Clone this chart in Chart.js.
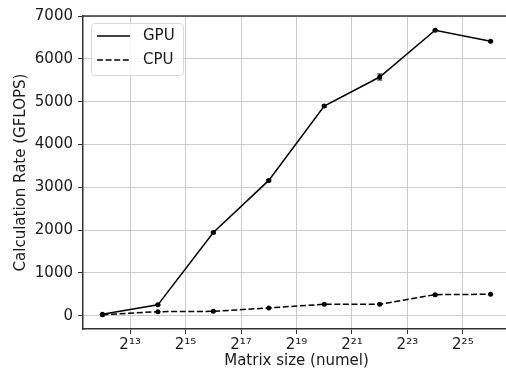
<!DOCTYPE html>
<html><head><meta charset="utf-8">
<script src="https://cdn.jsdelivr.net/npm/chart.js@4/dist/chart.umd.min.js"></script>
<style>html,body{margin:0;padding:0;overflow:hidden;background:#fff}#wrap{width:520px;height:372px}</style>
</head><body><div id="wrap"><canvas id="c" width="520" height="372"></canvas></div>
<script>
const exponents = [12, 14, 16, 18, 20, 22, 24, 26];
const gpuValues = [30, 252, 1944, 3160, 4897, 5575, 6668, 6411];
const gpuErrors = [5, 10, 15, 20, 20, 70, 10, 10];
const cpuValues = [20, 93, 100, 180, 266, 266, 490, 500];
const cpuErrors = [2, 3, 3, 5, 5, 5, 8, 8];
const xTickExps = [13, 15, 17, 19, 21, 23, 25];
const yTickValues = [0, 1000, 2000, 3000, 4000, 5000, 6000, 7000];
const seriesLabels = ['GPU', 'CPU'];

const SUP = {'0':'\u2070','1':'\u00b9','2':'\u00b2','3':'\u00b3','4':'\u2074','5':'\u2075','6':'\u2076','7':'\u2077','8':'\u2078','9':'\u2079'};
const FONT = "'DejaVu Sans', sans-serif";
const TXT = '#1a1a1a';

const errorBars = {
  id: 'errorBars',
  afterDatasetsDraw(chart) {
    const ctx = chart.ctx, x = chart.scales.x, y = chart.scales.y;
    const errs = [gpuErrors, cpuErrors];
    ctx.save();
    ctx.strokeStyle = '#000'; ctx.lineWidth = 1.2;
    chart.data.datasets.forEach((ds, i) => {
      ds.data.forEach((p, j) => {
        const e = errs[i][j];
        const px = x.getPixelForValue(p.x);
        const y1 = y.getPixelForValue(p.y - e), y2 = y.getPixelForValue(p.y + e);
        ctx.beginPath();
        ctx.moveTo(px, y1); ctx.lineTo(px, y2);
        ctx.moveTo(px - 2.5, y1); ctx.lineTo(px + 2.5, y1);
        ctx.moveTo(px - 2.5, y2); ctx.lineTo(px + 2.5, y2);
        ctx.stroke();
      });
    });
    ctx.restore();
  }
};

const frameAndLegend = {
  id: 'frameAndLegend',
  afterDraw(chart) {
    const ctx = chart.ctx, a = chart.chartArea;
    ctx.save();
    ctx.strokeStyle = '#333'; ctx.lineWidth = 1.5;
    ctx.beginPath(); ctx.moveTo(a.left, a.top); ctx.lineTo(a.right, a.top); ctx.stroke();
    const lx = a.left + 8, ly = a.top + 7, lw = 92, lh = 52;
    ctx.fillStyle = 'rgba(255,255,255,0.8)';
    ctx.strokeStyle = '#d9d9d9'; ctx.lineWidth = 1;
    ctx.beginPath();
    if (ctx.roundRect) ctx.roundRect(lx + 0.5, ly + 0.5, lw, lh, 3); else ctx.rect(lx + 0.5, ly + 0.5, lw, lh);
    ctx.fill(); ctx.stroke();
    ctx.font = '15px ' + FONT;
    ctx.textBaseline = 'middle'; ctx.textAlign = 'left';
    chart.data.datasets.forEach((ds, i) => {
      const yy = ly + 13 + i * 24;
      ctx.strokeStyle = '#000'; ctx.lineWidth = 1.5;
      ctx.setLineDash(ds.borderDash || []);
      ctx.beginPath(); ctx.moveTo(lx + 6, yy); ctx.lineTo(lx + 39, yy); ctx.stroke();
      ctx.setLineDash([]);
      ctx.fillStyle = TXT;
      ctx.fillText(ds.label, lx + 52, yy);
    });
    ctx.restore();
  }
};

const mk = (vals) => exponents.map((e, i) => ({x: e, y: vals[i]}));

new Chart(document.getElementById('c'), {
  type: 'scatter',
  data: {
    datasets: [
      {label: seriesLabels[0], data: mk(gpuValues), showLine: true, borderColor: '#000', backgroundColor: '#000', borderWidth: 1.5, pointRadius: 2.5, pointBorderWidth: 0},
      {label: seriesLabels[1], data: mk(cpuValues), showLine: true, borderColor: '#000', backgroundColor: '#000', borderWidth: 1.5, borderDash: [6, 2.6], pointRadius: 2.5, pointBorderWidth: 0}
    ]
  },
  options: {
    responsive: false, animation: false, devicePixelRatio: 1,
    layout: {padding: {left: 0, top: 16, right: 10, bottom: 1}},
    plugins: {legend: {display: false}, tooltip: {enabled: false}},
    scales: {
      x: {
        type: 'linear', min: 11.3, max: 26.7,
        afterBuildTicks: (s) => { s.ticks = xTickExps.map(v => ({value: v})); },
        afterFit: (s) => { s.height = 42; },
        ticks: {color: TXT, font: {family: FONT, size: 15}, padding: 2, maxRotation: 0,
          callback: (v) => '2' + String(v).split('').map(d => SUP[d]).join('')},
        grid: {color: '#cccccc', lineWidth: 1, tickLength: 5, tickColor: '#333'},
        border: {color: '#333', width: 1.5},
        title: {display: true, text: 'Matrix size (numel)', color: TXT, font: {family: FONT, size: 15}, padding: {top: 0, bottom: 1}}
      },
      y: {
        min: -312, max: 7000,
        afterBuildTicks: (s) => { s.ticks = yTickValues.map(v => ({value: v})); },
        afterFit: (s) => { s.width = 83; },
        ticks: {color: TXT, font: {family: FONT, size: 15}, padding: 5, callback: (v) => String(v)},
        grid: {color: '#cccccc', lineWidth: 1, tickLength: 5, tickColor: '#333'},
        border: {color: '#333', width: 1.5},
        title: {display: true, text: 'Calculation Rate (GFLOPS)', color: TXT, font: {family: FONT, size: 15}, padding: {top: 12, bottom: 0}}
      }
    }
  },
  plugins: [errorBars, frameAndLegend]
});
</script></body></html>
